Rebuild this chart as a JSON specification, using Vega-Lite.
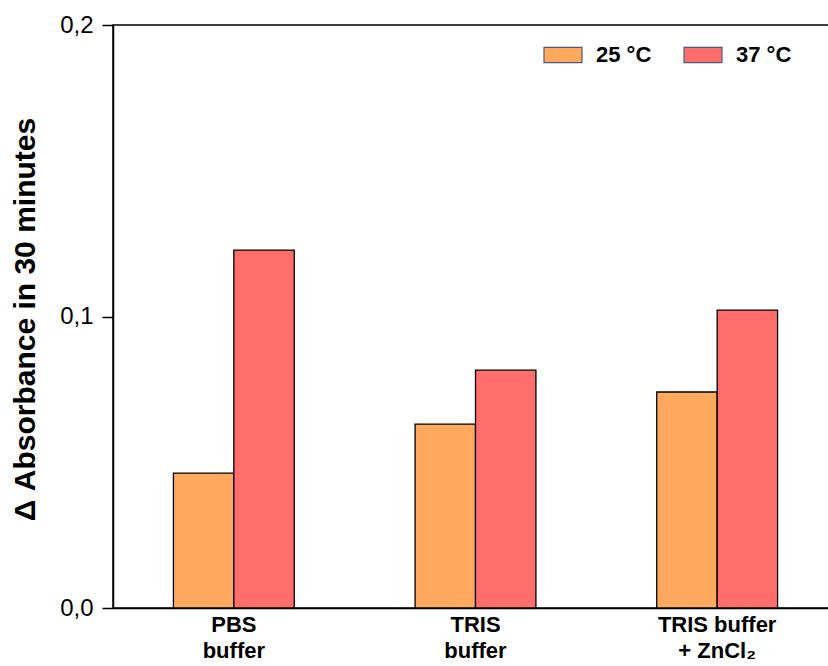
{
  "$schema": "https://vega.github.io/schema/vega-lite/v6.json",
  "autosize": "none",
  "width": 725,
  "height": 583,
  "padding": {"left": 113, "top": 25, "right": 0, "bottom": 58},
  "background": "white",
  "config": {
    "font": "Liberation Sans",
    "view": {"stroke": "black", "strokeWidth": 1.5}
  },
  "data": {
    "values": [
      {"buffer": "PBS|buffer", "temp": "25 °C", "value": 0.0463},
      {"buffer": "PBS|buffer", "temp": "37 °C", "value": 0.1228},
      {"buffer": "TRIS|buffer", "temp": "25 °C", "value": 0.0631},
      {"buffer": "TRIS|buffer", "temp": "37 °C", "value": 0.0816},
      {"buffer": "TRIS buffer|+ ZnCl₂", "temp": "25 °C", "value": 0.0741},
      {"buffer": "TRIS buffer|+ ZnCl₂", "temp": "37 °C", "value": 0.1022}
    ]
  },
  "mark": {"type": "bar", "stroke": "black", "strokeWidth": 1.3},
  "encoding": {
    "x": {
      "field": "buffer",
      "type": "nominal",
      "sort": null,
      "scale": {"paddingInner": 0.5, "paddingOuter": 0.25},
      "axis": {
        "title": null,
        "labelAngle": 0,
        "ticks": false,
        "domainColor": "black",
        "domainWidth": 1.5,
        "labelExpr": "split(datum.label, '|')",
        "labelFontSize": 22,
        "labelFontWeight": "bold",
        "labelColor": "black",
        "labelLineHeight": 26,
        "labelPadding": 6,
        "labelBaseline": "top"
      }
    },
    "xOffset": {
      "field": "temp",
      "type": "nominal",
      "scale": {"paddingInner": 0, "paddingOuter": 0}
    },
    "y": {
      "field": "value",
      "type": "quantitative",
      "scale": {"domain": [0, 0.2], "nice": false},
      "axis": {
        "values": [0, 0.1, 0.2],
        "grid": false,
        "labelExpr": "replace(format(datum.value, '.1f'), '.', ',')",
        "labelFontSize": 24,
        "labelColor": "black",
        "labelPadding": 9,
        "tickSize": 11,
        "tickColor": "black",
        "tickWidth": 1.5,
        "domainColor": "black",
        "domainWidth": 1.5,
        "title": "Δ Absorbance in 30 minutes",
        "titleFontSize": 30,
        "titleFontWeight": "bold",
        "titleColor": "black",
        "titleAngle": -90,
        "titleX": -88,
        "titleY": 294,
        "titleAlign": "center",
        "titleBaseline": "middle"
      }
    },
    "color": {
      "field": "temp",
      "type": "nominal",
      "scale": {"domain": ["25 °C", "37 °C"], "range": ["#FFA95F", "#FF6E6B"]},
      "legend": {
        "title": null,
        "orient": "none",
        "legendX": 430,
        "legendY": 10,
        "direction": "horizontal",
        "symbolType": "M-1,-0.4L1,-0.4L1,0.4L-1,0.4Z",
        "symbolSize": 1444,
        "symbolStrokeColor": "#4a5a80",
        "symbolStrokeWidth": 1.2,
        "symbolOpacity": 1,
        "labelFontSize": 22,
        "labelFontWeight": "bold",
        "labelColor": "black",
        "labelOffset": 13,
        "columnPadding": 29
      }
    }
  }
}
